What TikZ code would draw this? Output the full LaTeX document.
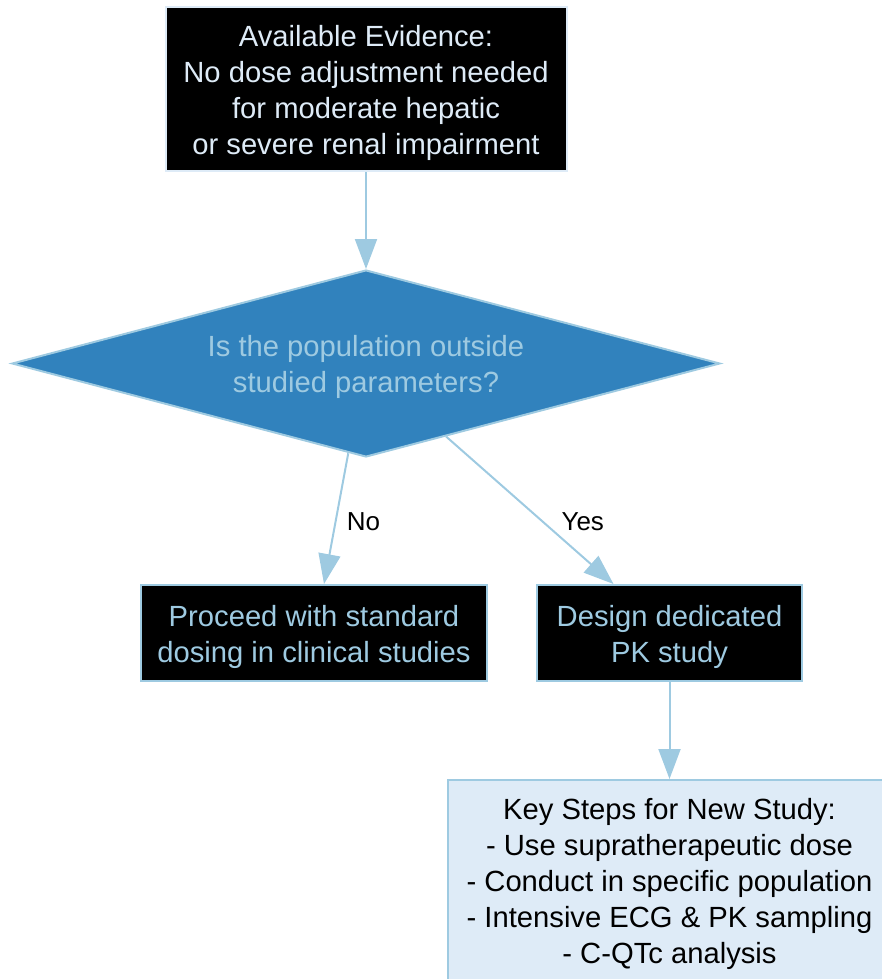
\documentclass[tikz,border=0pt]{standalone}
\usepackage{fontspec}
\setmainfont{Liberation Sans}
\usetikzlibrary{shapes.geometric,arrows.meta,calc}
\definecolor{edgeblue}{HTML}{9ECAE1}
\definecolor{paleblue}{HTML}{DEEBF7}
\definecolor{midblue}{HTML}{3182BD}
\newcommand{\topstrut}{\rule{0pt}{28.5pt}}
\tikzset{
  base/.style={font=\fontsize{29.2}{36}\selectfont, align=center, line width=2pt, inner sep=0pt},
  darkbox/.style={base, rectangle, fill=black, draw=edgeblue, text=edgeblue},
  topbox/.style={base, rectangle, fill=black, draw=paleblue, text=paleblue},
  decision/.style={base, diamond, shape aspect=3.786, fill=midblue, draw=edgeblue, text=edgeblue},
  notebox/.style={base, rectangle, fill=paleblue, draw=edgeblue, text=black},
  link/.style={draw=edgeblue, line width=2pt, -{Triangle[length=30pt,width=22pt]}},
  elabel/.style={font=\fontsize{26}{30}\selectfont, text=black, anchor=center},
}
\begin{document}
\begin{tikzpicture}[x=1pt,y=-1pt]
\useasboundingbox (0,0) rectangle (882,979);
\clip (0,0) rectangle (882,979);
\node[topbox, minimum width=401, minimum height=164] (evid) at (366,89)
  {\topstrut Available Evidence:\\No dose adjustment needed\\for moderate hepatic\\or severe renal impairment};
\node[decision, minimum width=708, minimum height=187] (dec) at (366,363.5)
  {\topstrut Is the population outside\\studied parameters?};
\node[darkbox, minimum width=346, minimum height=96] (std) at (314,633)
  {\topstrut Proceed with standard\\dosing in clinical studies};
\node[darkbox, minimum width=265, minimum height=96] (pk) at (669.5,633)
  {\topstrut Design dedicated\\PK study};
\node[notebox, minimum width=444, minimum height=200, anchor=north] (steps) at (669.5,779)
  {\topstrut Key Steps for New Study:\\- Use supratherapeutic dose\\- Conduct in specific population\\- Intensive ECG \& PK sampling\\- C-QTc analysis};
\draw[link] (evid.south) -- (dec.north);
\draw[link] ($(dec.south)!0.05!(dec.west)$) -- node[elabel, pos=0.526, xshift=28pt] {No} ([xshift=10]std.north);
\draw[link] ($(dec.south)!0.226!(dec.east)$) -- node[elabel, pos=0.577, xshift=40pt] {Yes} ([xshift=-56]pk.north);
\draw[link] (pk.south) -- (steps.north);
\end{tikzpicture}
\end{document}
